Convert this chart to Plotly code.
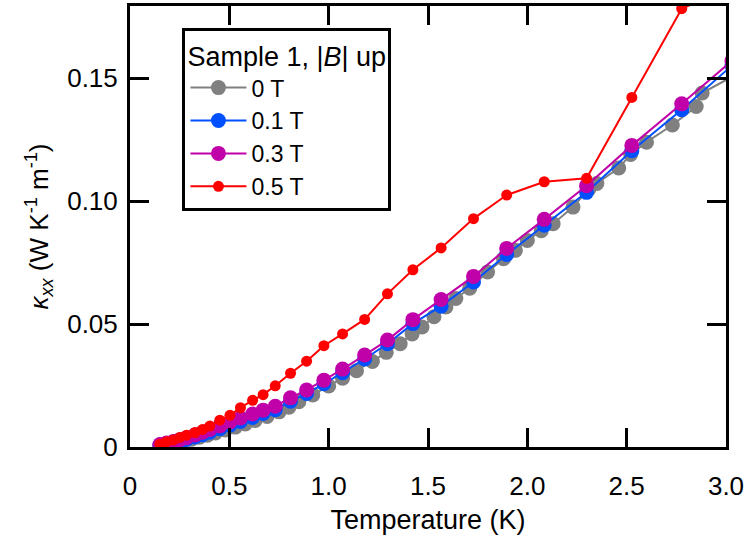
import plotly.graph_objects as go

# ---------------- data ----------------
t_field = [0.151, 0.184, 0.218, 0.251, 0.285, 0.327, 0.365, 0.402, 0.452, 0.503,
           0.556, 0.617, 0.670, 0.731, 0.808, 0.889, 0.976, 1.070, 1.181, 1.296,
           1.424, 1.566, 1.729, 1.896, 2.085, 2.298, 2.526, 2.777, 3.03]

k_01T = [0.0008, 0.0012, 0.0017, 0.0024, 0.0031, 0.0041, 0.0050, 0.0060, 0.0074, 0.0089,
         0.0104, 0.0120, 0.0136, 0.0152, 0.0186, 0.0218, 0.0257, 0.0302, 0.0358, 0.0420,
         0.0502, 0.0573, 0.0671, 0.0783, 0.0902, 0.1036, 0.1205, 0.1372, 0.1552]

k_03T = [0.0010, 0.0016, 0.0022, 0.0030, 0.0038, 0.0049, 0.0060, 0.0071, 0.0086, 0.0102,
         0.0118, 0.0134, 0.0150, 0.0166, 0.0200, 0.0232, 0.0272, 0.0317, 0.0374, 0.0435,
         0.0518, 0.0600, 0.0694, 0.0808, 0.0926, 0.1063, 0.1227, 0.1396, 0.1571]

t_05T = [0.151, 0.184, 0.218, 0.251, 0.285, 0.327, 0.365, 0.402, 0.452, 0.503,
         0.556, 0.617, 0.670, 0.731, 0.808, 0.889, 0.976, 1.070, 1.181, 1.296,
         1.424, 1.566, 1.729, 1.896, 2.085, 2.298, 2.526, 2.777, 3.0]
k_05T = [0.0012, 0.0021, 0.0028, 0.0039, 0.0048, 0.0059, 0.0071, 0.0085, 0.0109, 0.0129,
         0.0160, 0.0190, 0.0213, 0.0249, 0.0300, 0.0349, 0.0412, 0.0460, 0.0519, 0.0623,
         0.0721, 0.0810, 0.0929, 0.1025, 0.1079, 0.1093, 0.1422, 0.1783, 0.1862]

t_0T = [0.15, 0.19, 0.23, 0.27, 0.31, 0.35, 0.39, 0.43, 0.48, 0.53,
        0.58, 0.63, 0.69, 0.75, 0.80, 0.85, 0.92, 1.00, 1.07, 1.14,
        1.22, 1.29, 1.36, 1.42, 1.47, 1.53, 1.59, 1.64, 1.71, 1.80,
        1.88, 1.94, 2.00, 2.07, 2.13, 2.23, 2.31, 2.35, 2.46, 2.52,
        2.60, 2.73, 2.85, 2.88, 3.05]
k_0T = [0.0008, 0.0013, 0.0019, 0.0025, 0.0032, 0.0040, 0.0048, 0.0057, 0.0069, 0.0081,
        0.0094, 0.0108, 0.0124, 0.0143, 0.0162, 0.0184, 0.0212, 0.0248, 0.0280, 0.0310,
        0.0348, 0.0385, 0.0420, 0.0460, 0.0488, 0.0530, 0.0570, 0.0604, 0.0646, 0.0712,
        0.0766, 0.0800, 0.0840, 0.0880, 0.0908, 0.0976, 0.1050, 0.1072, 0.1135, 0.1190,
        0.1240, 0.1310, 0.1385, 0.1440, 0.1515]

x_tickvals = [0, 0.5, 1.0, 1.5, 2.0, 2.5, 3.0]
x_ticktext = ["0", "0.5", "1.0", "1.5", "2.0", "2.5", "3.0"]
y_tickvals = [0, 0.05, 0.10, 0.15]
y_ticktext = ["0", "0.05", "0.10", "0.15"]

series_names = ["0 T", "0.1 T", "0.3 T", "0.5 T"]
colors = ["#808080", "#0050FF", "#C000A8", "#FF0000"]

FONT = "Liberation Sans, Arial, sans-serif"

fig = go.Figure()
specs = [(t_0T, k_0T, 15), (t_field, k_01T, 15), (t_field, k_03T, 15), (t_05T, k_05T, 11)]
for (xs, ys, ms), name, col in zip(specs, series_names, colors):
    fig.add_trace(go.Scatter(
        x=xs, y=ys, name=name, mode="lines+markers",
        line=dict(color=col, width=2),
        marker=dict(color=col, size=ms, line=dict(width=0)),
    ))

axis_common = dict(
    showline=True, linecolor="black", linewidth=3, mirror="ticks",
    ticks="inside", ticklen=19, tickwidth=3, tickcolor="black",
    showgrid=False, zeroline=False,
    tickfont=dict(family=FONT, size=26, color="black"),
)

fig.update_layout(
    width=747, height=543,
    margin=dict(l=130, r=20, t=3, b=96),
    plot_bgcolor="white", paper_bgcolor="white",
    font=dict(family=FONT, size=26, color="black"),
    xaxis=dict(range=[0, 3.0], tickvals=x_tickvals, ticktext=x_ticktext,
               ticklabelstandoff=14,
               title=dict(text="Temperature (K)", standoff=10,
                          font=dict(family=FONT, size=27, color="black")),
               **axis_common),
    yaxis=dict(range=[0, 0.1794], tickvals=y_tickvals, ticktext=y_ticktext,
               ticklabelstandoff=4,
               title=dict(text="<i>κ</i><sub><i>xx</i></sub> (W K<sup>-1</sup> m<sup>-1</sup>)",
                          standoff=12,
                          font=dict(family=FONT, size=26, color="black")),
               **axis_common),
    legend=dict(
        x=0.088, y=0.95, xanchor="left", yanchor="top",
        bgcolor="white", bordercolor="black", borderwidth=3,
        font=dict(family=FONT, size=23, color="black"),
        title=dict(text="Sample 1, |<i>B</i>| up",
                   font=dict(family=FONT, size=27, color="black")),
        tracegroupgap=0,
        itemwidth=56,
    ),
    showlegend=True,
)

fig.write_html("out.html",
               config={"displayModeBar": False},
               post_script="document.body.style.margin='0';document.body.style.padding='0';")
